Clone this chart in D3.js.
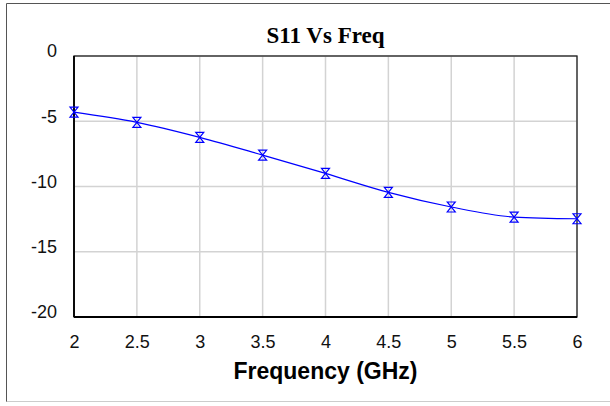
<!DOCTYPE html>
<html>
<head>
<meta charset="utf-8">
<script src="https://cdn.jsdelivr.net/npm/d3@7"></script>
<style>
  body { margin: 0; background: #fff; }
  svg { display: block; }
</style>
</head>
<body>
<svg width="610" height="406"></svg>
<script>
// S11 data
const freqs = [2, 2.5, 3, 3.5, 4, 4.5, 5, 5.5, 6];
const s11 = [-4.3, -5.08, -6.23, -7.59, -9.0, -10.45, -11.57, -12.34, -12.47];
const xTicks = [2, 2.5, 3, 3.5, 4, 4.5, 5, 5.5, 6];
const yTicks = [0, -5, -10, -15, -20];

const svg = d3.select('svg');
const margin = { left: 74, right: 33, top: 56, bottom: 89 };
const width = 610, height = 406;

// outer frame
svg.append('line').attr('x1', 6.5).attr('y1', 3.5).attr('x2', 610).attr('y2', 3.5)
    .attr('stroke', '#555').attr('stroke-width', 1);
svg.append('line').attr('x1', 6.5).attr('y1', 3.5).attr('x2', 6.5).attr('y2', 402)
    .attr('stroke', '#555').attr('stroke-width', 1);
svg.append('line').attr('x1', 6.5).attr('y1', 401.5).attr('x2', 610).attr('y2', 401.5)
    .attr('stroke', '#ccc').attr('stroke-width', 1);

const x = d3.scaleLinear().domain([2, 6]).range([margin.left, width - margin.right]);
const y = d3.scaleLinear().domain([-20, 0]).range([height - margin.bottom, margin.top]);

// grid
svg.append('g')
    .selectAll('line')
    .data(xTicks)
    .enter()
    .append('line')
    .attr('x1', d => x(d)).attr('x2', d => x(d))
    .attr('y1', y(0)).attr('y2', y(-20))
    .attr('stroke', '#d3d3d3').attr('stroke-width', 1.5);

svg.append('g')
    .selectAll('line')
    .data(yTicks)
    .enter()
    .append('line')
    .attr('x1', x(2)).attr('x2', x(6))
    .attr('y1', d => y(d)).attr('y2', d => y(d))
    .attr('stroke', '#d3d3d3').attr('stroke-width', 1.5);

// plot frame
svg.append('rect')
    .attr('x', x(2)).attr('y', y(0))
    .attr('width', x(6) - x(2)).attr('height', y(-20) - y(0))
    .attr('fill', 'none').attr('stroke', '#222').attr('stroke-width', 1.3);
svg.append('line').attr('x1', x(2)).attr('x2', x(2)).attr('y1', y(0)).attr('y2', y(-20))
    .attr('stroke', '#000').attr('stroke-width', 1.8);
svg.append('line').attr('x1', x(2)).attr('x2', x(6)).attr('y1', y(-20)).attr('y2', y(-20))
    .attr('stroke', '#000').attr('stroke-width', 1.8);

// axes (labels only)
const xAxis = svg.append('g')
    .attr('transform', `translate(0,${y(-20)})`)
    .call(d3.axisBottom(x).tickValues(xTicks).tickSize(0).tickPadding(18).tickFormat(d => String(d)));
xAxis.select('.domain').remove();
xAxis.selectAll('text')
    .style('font-family', 'Arial, "Liberation Sans", sans-serif')
    .style('font-size', '18px')
    .attr('fill', '#111');

const yAxis = svg.append('g')
    .attr('transform', `translate(${x(2)},0)`)
    .call(d3.axisLeft(y).tickValues(yTicks).tickSize(0).tickPadding(17).tickFormat(d => String(d)));
yAxis.select('.domain').remove();
yAxis.selectAll('text')
    .style('font-family', 'Arial, "Liberation Sans", sans-serif')
    .style('font-size', '18px')
    .attr('fill', '#111')
    .attr('dy', '0.05em');

// series line
const line = d3.line()
    .x((d, i) => x(freqs[i]))
    .y(d => y(d))
    .curve(d3.curveMonotoneX);

svg.append('path')
    .datum(s11)
    .attr('d', line)
    .attr('fill', 'none')
    .attr('stroke', '#0000ff')
    .attr('stroke-width', 1.2);

// hourglass markers
const hw = 4, hh = 5;
svg.append('g')
    .selectAll('path')
    .data(s11)
    .enter()
    .append('path')
    .attr('transform', (d, i) => `translate(${x(freqs[i])},${y(d)})`)
    .attr('d', `M${-hw},${-hh}L${hw},${-hh}L${-hw},${hh}L${hw},${hh}Z`)
    .attr('fill', 'none')
    .attr('stroke', '#0000ff')
    .attr('stroke-width', 1.2);

// titles
svg.append('text')
    .attr('x', (x(2) + x(6)) / 2)
    .attr('y', 43)
    .attr('text-anchor', 'middle')
    .style('font-family', '"Times New Roman", "Liberation Serif", serif')
    .style('font-weight', 'bold')
    .style('font-size', '23px')
    .text('S11 Vs Freq');

svg.append('text')
    .attr('x', (x(2) + x(6)) / 2)
    .attr('y', 379)
    .attr('text-anchor', 'middle')
    .style('font-family', 'Arial, "Liberation Sans", sans-serif')
    .style('font-weight', 'bold')
    .style('font-size', '23px')
    .text('Frequency (GHz)');
</script>
</body>
</html>
